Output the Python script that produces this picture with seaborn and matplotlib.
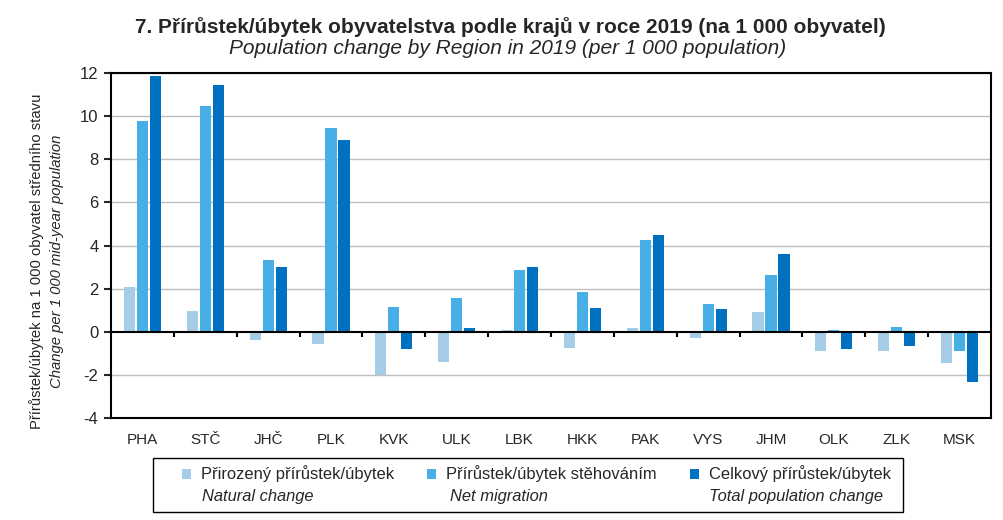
import numpy as np
import pandas as pd
import matplotlib
matplotlib.use("Agg")
import matplotlib.pyplot as plt
from matplotlib.patches import Rectangle
import seaborn as sns

regions = ["PHA", "STČ", "JHČ", "PLK", "KVK", "ULK", "LBK", "HKK", "PAK", "VYS", "JHM", "OLK", "ZLK", "MSK"]
natural = [2.07, 0.96, -0.39, -0.57, -2.02, -1.40, 0.08, -0.75, 0.17, -0.27, 0.91, -0.90, -0.90, -1.45]
migration = [9.77, 10.47, 3.33, 9.45, 1.15, 1.56, 2.86, 1.84, 4.25, 1.28, 2.63, 0.08, 0.22, -0.90]
total = [11.86, 11.44, 3.00, 8.90, -0.80, 0.17, 3.00, 1.10, 4.49, 1.05, 3.60, -0.80, -0.66, -2.33]

series_cz = ["Přirozený přírůstek/úbytek", "Přírůstek/úbytek stěhováním", "Celkový přírůstek/úbytek"]
series_en = ["Natural change", "Net migration", "Total population change"]
colors = ["#A6CDE8", "#47AEE6", "#0070C0"]

df = pd.DataFrame({"kraj": regions, series_cz[0]: natural, series_cz[1]: migration, series_cz[2]: total})
long = df.melt(id_vars="kraj", var_name="serie", value_name="hodnota")

sns.set_style("white")
plt.rcParams["font.family"] = ["Liberation Sans", "DejaVu Sans"]
plt.rcParams["axes.unicode_minus"] = False

fig = plt.figure(figsize=(10.04, 5.2), dpi=100)
ax = fig.add_axes([111 / 1004, 102 / 520, 880 / 1004, 345 / 520])

for y in range(-4, 13, 2):
    if y != 0:
        ax.axhline(y, color="#BFBFBF", lw=1, zorder=0)

sns.barplot(data=long, x="kraj", y="hodnota", hue="serie", palette=colors,
            width=0.62, gap=0.15, ax=ax, legend=True, zorder=2, saturation=1, linewidth=0)

ax.axhline(0, color="black", lw=1.5, zorder=3)
bounds = np.arange(len(regions) - 1) + 0.5
ax.vlines(bounds, -0.24, 0, color="black", lw=1.5, zorder=3)

ax.set_ylim(-4, 12)
ax.set_xlim(-0.5, len(regions) - 0.5)
ax.set_yticks(range(-4, 13, 2))
ax.tick_params(axis="y", direction="out", length=5, width=1.5, labelsize=12, pad=4, left=True)
ax.tick_params(axis="x", length=0, labelsize=11, pad=11)
ax.set_xlabel("")
ax.set_ylabel("")
for s in ax.spines.values():
    s.set_color("black")
    s.set_linewidth(1.5)

handles, labels = ax.get_legend_handles_labels()
ax.get_legend().remove()

fig.text(0.508, 0.948, "7. Přírůstek/úbytek obyvatelstva podle krajů v roce 2019 (na 1 000 obyvatel)",
         ha="center", va="center", fontsize=15, fontweight="bold")
fig.text(0.506, 0.906, "Population change by Region in 2019 (per 1 000 population)",
         ha="center", va="center", fontsize=15, style="italic")

fig.text(0.036, 0.498, "Přírůstek/úbytek na 1 000 obyvatel středního stavu", rotation=90,
         ha="center", va="center", fontsize=10.7)
fig.text(0.057, 0.498, "Change per 1 000 mid-year population", rotation=90,
         ha="center", va="center", fontsize=10.7, style="italic")

# legend box
fig.patches.append(Rectangle((153 / 1004, 1 - 512 / 520), 750 / 1004, 54 / 520,
                             transform=fig.transFigure, fill=False, ec="black", lw=1))
marker_x = [182, 427, 690]
en_x = [202, 450, 709]
for h, lab, mx, en, ex in zip(handles, labels, marker_x, series_en, en_x):
    lg = fig.legend([h], [lab], loc="center left", bbox_to_anchor=(mx / 1004, 1 - 474 / 520),
                    frameon=False, fontsize=11.9, handlelength=0.55, handleheight=0.55,
                    handletextpad=0.6, borderpad=0, borderaxespad=0)
    fig.text(ex / 1004, 1 - 496 / 520, en, ha="left", va="center", fontsize=11.9, style="italic")

fig.savefig("out.png", dpi=100)
